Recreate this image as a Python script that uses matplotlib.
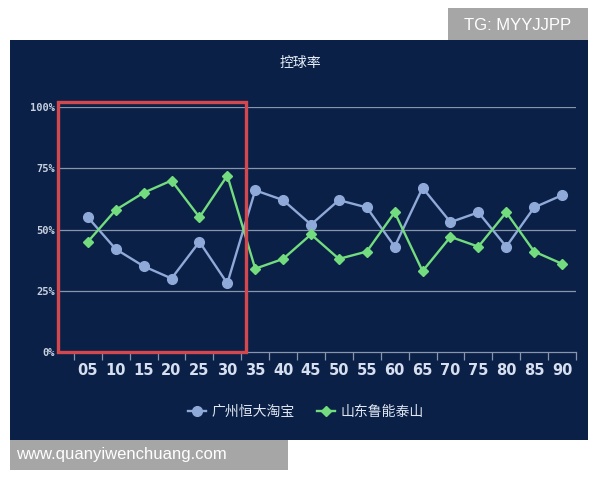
import matplotlib.pyplot as plt
from matplotlib.patches import Rectangle
from matplotlib.lines import Line2D

plt.rcParams['font.family'] = ['Noto Sans CJK SC', 'DejaVu Sans']

# minutes
categories = ["05", "10", "15", "20", "25", "30", "35", "40", "45",
              "50", "55", "60", "65", "70", "75", "80", "85", "90"]
# possession %
guangzhou = [55, 42, 35, 30, 45, 28, 66, 62, 52, 62, 59, 43, 67, 53, 57, 43, 59, 64]
shandong = [45, 58, 65, 70, 55, 72, 34, 38, 48, 38, 41, 57, 33, 47, 43, 57, 41, 36]
yticks = [0, 25, 50, 75, 100]

W, H = 600, 480
bg = "#0a2046"
blue = "#8fa9d9"
green = "#72dc7e"

fig = plt.figure(figsize=(6, 4.8), dpi=100)
fig.patch.set_facecolor("white")

# dark panel
fig.patches.append(Rectangle((10 / W, 1 - 440 / H), 578 / W, 400 / H,
                             transform=fig.transFigure, facecolor=bg,
                             edgecolor="none", zorder=-5))

ax = fig.add_axes([58 / W, 1 - 352 / H, (576 - 58) / W, (352 - 107) / H])
ax.set_facecolor("none")

x = list(range(len(categories)))
ax.plot(x, guangzhou, color=blue, lw=1.7, marker="o", markersize=7, zorder=3)
ax.plot(x, shandong, color=green, lw=1.7, marker="D", markersize=5, zorder=3)

ax.set_xlim(-1.07, len(categories) - 0.5)
ax.set_ylim(0, 100)

for v in yticks[1:]:
    ax.axhline(v, color="#8795ad", lw=0.9, zorder=1)

for s in ["top", "right", "left"]:
    ax.spines[s].set_visible(False)
ax.spines["bottom"].set_color("#8795ad")
ax.spines["bottom"].set_linewidth(0.9)

ax.set_xticks(x)
ax.set_xticklabels(categories, color="#d6def0", fontsize=10.5, fontweight="bold",
                   family="DejaVu Sans")
ax.set_xticks([i - 0.5 for i in range(len(categories) + 1)], minor=True)
ax.tick_params(axis="x", which="major", length=0, pad=8)
ax.tick_params(axis="x", which="minor", length=6, color="#8795ad", width=0.9,
               direction="out")

ax.set_yticks(yticks)
ax.set_yticklabels([f"{v}%" for v in yticks], color="#c8d0e0", fontsize=7.5,
                   family="DejaVu Sans Mono", fontweight="bold")
ax.tick_params(axis="y", length=0, pad=2)

# title
fig.text(300 / W, 1 - 63 / H, "控球率", color="#e8eef8", fontsize=10,
         ha="center", va="center")

# legend
handles = [Line2D([], [], color=blue, lw=1.7, marker="o", markersize=7),
           Line2D([], [], color=green, lw=1.7, marker="D", markersize=5)]
fig.legend(handles, ["广州恒大淘宝", "山东鲁能泰山"], loc="center",
           bbox_to_anchor=(306 / W, 1 - 412 / H), ncol=2, frameon=False,
           labelcolor="#e0e6f2", fontsize=10, handlelength=1.3,
           handletextpad=0.4, columnspacing=1.6)

# red highlight box
fig.patches.append(Rectangle((58 / W, 1 - 352 / H), (245.5 - 58) / W,
                             (352 - 101.5) / H, transform=fig.transFigure,
                             facecolor="none", edgecolor="#d4474f", lw=2.4,
                             zorder=5))

# watermark boxes
fig.patches.append(Rectangle((448 / W, 1 - 40 / H), 140 / W, 32 / H,
                             transform=fig.transFigure, facecolor="#a6a6a6",
                             edgecolor="none", zorder=4))
fig.text(518 / W, 1 - 25 / H, "TG: MYYJJPP", color="white", fontsize=12,
         ha="center", va="center", family="Liberation Sans", zorder=6)
fig.patches.append(Rectangle((10 / W, 1 - 470 / H), 278 / W, 30 / H,
                             transform=fig.transFigure, facecolor="#a6a6a6",
                             edgecolor="none", zorder=4))
fig.text(16 / W, 1 - 455 / H, "www.quanyiwenchuang.com", color="white",
         fontsize=12, ha="left", va="center", family="Liberation Sans", zorder=6)

fig.savefig("out.png", dpi=100)
